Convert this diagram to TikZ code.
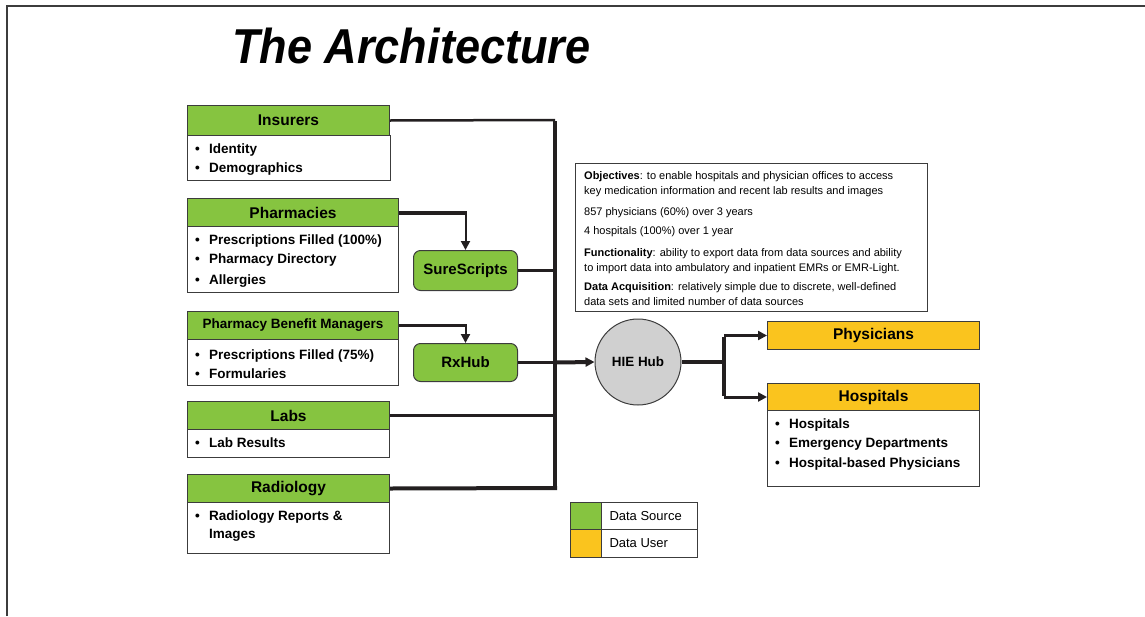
\documentclass[tikz,border=0pt]{standalone}
\usepackage{fontspec}
\setmainfont{Liberation Sans}
\newfontfamily\titlefont[FakeStretch=0.92]{Liberation Sans}
\usetikzlibrary{arrows.meta}
\definecolor{srcgreen}{RGB}{134,196,64}
\definecolor{useryellow}{RGB}{250,196,30}
\definecolor{hubgray}{RGB}{208,208,208}
\definecolor{linecol}{RGB}{35,31,32}
\definecolor{bordercol}{RGB}{60,60,60}
\newcommand{\bitem}[1]{\makebox[14pt][l]{\textbullet}#1}
\tikzset{
  hdr/.style={draw=bordercol, line width=1pt, fill=srcgreen, anchor=north west, inner sep=0pt, font=\bfseries\fontsize{15.5}{16}\selectfont},
  uhdr/.style={hdr, fill=useryellow},
  bodybox/.style={draw=bordercol, line width=1pt, fill=white, anchor=north west, inner sep=0pt},
  btext/.style={anchor=base west, inner sep=0pt, font=\bfseries\fontsize{13.5}{16}\selectfont},
  otext/.style={anchor=base west, inner sep=0pt, font=\fontsize{11}{12}\selectfont},
  proc/.style={draw=bordercol, line width=1pt, fill=srcgreen, rounded corners=7pt, anchor=north west, inner sep=0pt, font=\bfseries\fontsize{15}{16}\selectfont},
  conn/.style={draw=linecol, line width=2.5pt},
  thickconn/.style={draw=linecol, line width=4pt},
  tip/.style={-{Triangle[length=9pt,width=9pt]}},
}
\begin{document}
\begin{tikzpicture}[x=1pt,y=-1pt]
\useasboundingbox (0,0) rectangle (1145,616);
% frame
\draw[draw=bordercol, line width=1.5pt] (7,616) -- (7,6) -- (1145,6);
% title
\node[anchor=base west, inner sep=0pt, font=\titlefont\bfseries\itshape\fontsize{49}{50}\selectfont] (title) at (232,63) {The Architecture};

% Insurers
\node[hdr, minimum width=202pt, minimum height=30pt] (ins) at (187,105) {Insurers};
\node[bodybox, minimum width=203pt, minimum height=45pt] (insb) at (187,135) {};
\node[btext] (ins1) at (195,153) {\bitem{Identity}};
\node[btext] (ins2) at (195,172) {\bitem{Demographics}};

% Pharmacies
\node[hdr, minimum width=211pt, minimum height=28pt] (ph) at (187,198) {Pharmacies};
\node[bodybox, minimum width=211pt, minimum height=66pt] (phb) at (187,226) {};
\node[btext] (ph1) at (195,244) {\bitem{Prescriptions Filled (100\%)}};
\node[btext] (ph2) at (195,263) {\bitem{Pharmacy Directory}};
\node[btext] (ph3) at (195,284) {\bitem{Allergies}};

% PBM
\node[hdr, minimum width=211pt, minimum height=28pt, font=\bfseries\fontsize{13.5}{14}\selectfont] (pbm) at (187,311) {Pharmacy Benefit Managers};
\node[bodybox, minimum width=211pt, minimum height=46pt] (pbmb) at (187,339) {};
\node[btext] (pbm1) at (195,359) {\bitem{Prescriptions Filled (75\%)}};
\node[btext] (pbm2) at (195,378) {\bitem{Formularies}};

% Labs
\node[hdr, minimum width=202pt, minimum height=28pt] (labs) at (187,401) {Labs};
\node[bodybox, minimum width=202pt, minimum height=28pt] (labsb) at (187,429) {};
\node[btext] (labs1) at (195,447) {\bitem{Lab Results}};

% Radiology
\node[hdr, minimum width=202pt, minimum height=28pt] (rad) at (187,474) {Radiology};
\node[bodybox, minimum width=202pt, minimum height=51pt] (radb) at (187,502) {};
\node[btext] (rad1) at (195,520) {\bitem{Radiology Reports \&}};
\node[btext] (rad2) at (209,538) {Images};

% SureScripts / RxHub
\node[proc, minimum width=104pt, minimum height=40pt] (ss) at (413,250) {SureScripts};
\node[proc, minimum width=104pt, minimum height=38pt] (rx) at (413,343) {RxHub};

% Objectives box
\node[draw=bordercol, line width=1pt, anchor=north west, minimum width=352pt, minimum height=148pt, inner sep=0pt] (obj) at (575,163) {};
\node[otext] (o1) at (584,179) {\textbf{Objectives}: to enable hospitals and physician offices to access};
\node[otext] (o2) at (584,194) {key medication information and recent lab results and images};
\node[otext] (o3) at (584,215) {857 physicians (60\%) over 3 years};
\node[otext] (o4) at (584,234) {4 hospitals (100\%) over 1 year};
\node[otext] (o5) at (584,256) {\textbf{Functionality}: ability to export data from data sources and ability};
\node[otext] (o6) at (584,271) {to import data into ambulatory and inpatient EMRs or EMR-Light.};
\node[otext] (o7) at (584,290) {\textbf{Data Acquisition}: relatively simple due to discrete, well-defined};
\node[otext] (o8) at (584,305) {data sets and limited number of data sources};

% HIE Hub
\node[circle, draw=bordercol, line width=1pt, fill=hubgray, minimum size=86pt, inner sep=0pt, font=\bfseries\fontsize{13.4}{14}\selectfont] (hub) at (638,362) {HIE Hub};

% Users
\node[uhdr, minimum width=212pt, minimum height=28pt] (phy) at (767,321) {Physicians};
\node[uhdr, minimum width=212pt, minimum height=27pt] (hos) at (767,383) {Hospitals};
\node[bodybox, minimum width=212pt, minimum height=76pt] (hosb) at (767,410) {};
\node[btext] (hos1) at (775,428) {\bitem{Hospitals}};
\node[btext] (hos2) at (775,447) {\bitem{Emergency Departments}};
\node[btext] (hos3) at (775,467) {\bitem{Hospital-based Physicians}};

% Legend
\node[draw=bordercol, line width=1pt, fill=srcgreen, anchor=north west, minimum width=31pt, minimum height=27pt, inner sep=0pt] (lg1) at (570,502) {};
\node[draw=bordercol, line width=1pt, fill=white, anchor=north west, minimum width=96pt, minimum height=27pt, inner sep=0pt, font=\fontsize{13}{14}\selectfont] (lt1) at (601,502) {\makebox[80pt][l]{Data Source}};
\node[draw=bordercol, line width=1pt, fill=useryellow, anchor=north west, minimum width=31pt, minimum height=28pt, inner sep=0pt] (lg2) at (570,529) {};
\node[draw=bordercol, line width=1pt, fill=white, anchor=north west, minimum width=96pt, minimum height=28pt, inner sep=0pt, font=\fontsize{13}{14}\selectfont] (lt2) at (601,529) {\makebox[80pt][l]{Data User}};

% Connectors
\coordinate (bt) at (555,120);
\coordinate (bb) at (555,488);
\draw[conn] (ins.east) -- (bt);
\draw[thickconn] ([yshift=-1.25pt]bt) -- ([yshift=2pt]bb);
\draw[thickconn] (rad.east) -- ([xshift=2pt]bb);
\draw[conn] (labs.east) -- (labs.east -| bt);
\draw[conn] (ss.east) -- (ss.east -| bt);
\draw[conn] (rx.east) -- (rx.east -| bt);
\draw[thickconn, tip] (rx.east -| bt) -- (hub.west);
\draw[thickconn] (ph.east) -- ([xshift=1pt]ph.east -| ss.north);
\draw[conn, line width=2pt, tip] ([yshift=-2pt]ph.east -| ss.north) -- (ss.north);
\draw[conn, line width=3pt] (pbm.east) -- ([xshift=1pt]pbm.east -| rx.north);
\draw[conn, line width=2pt, tip] ([yshift=-1.5pt]pbm.east -| rx.north) -- (rx.north);
\coordinate (hj) at (724,362);
\draw[thickconn] (hub.east) -- (hj);
\draw[thickconn] ([yshift=-1.5pt]hj |- phy.west) -- ([yshift=1.5pt]hj |- hos.west);
\draw[conn, line width=3pt, tip] (hj |- phy.west) -- (phy.west);
\draw[conn, line width=3pt, tip] (hj |- hos.west) -- (hos.west);
\end{tikzpicture}
\end{document}
